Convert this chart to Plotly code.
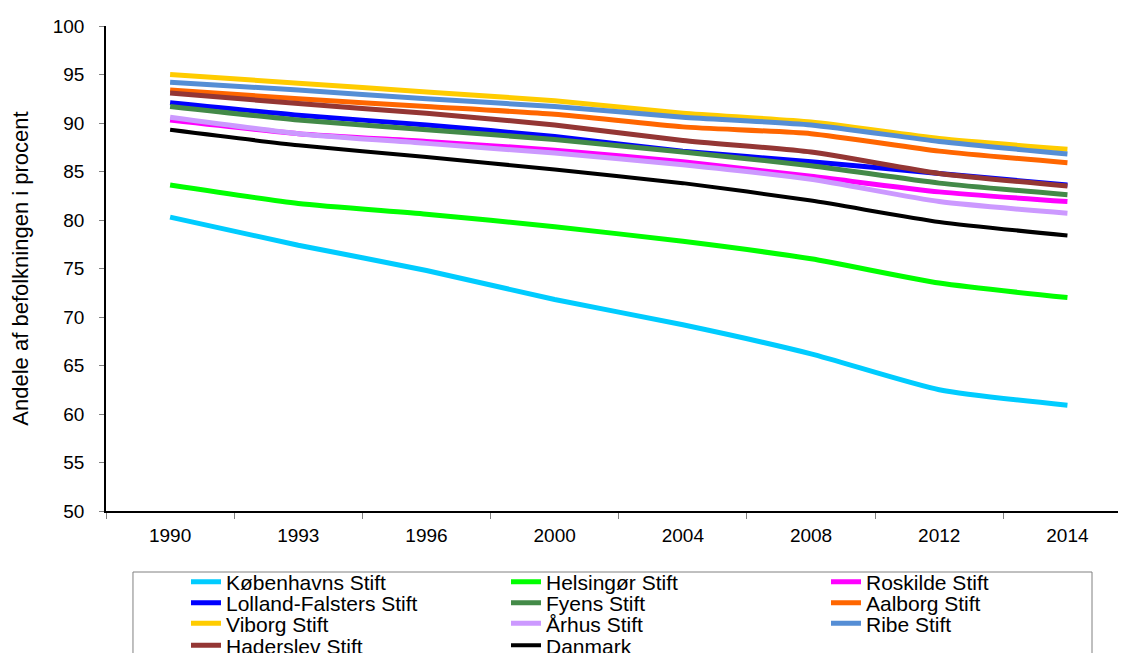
import plotly.graph_objects as go

years = ["1990", "1993", "1996", "2000", "2004", "2008", "2012", "2014"]

kobenhavn = [80.3, 77.4, 74.8, 71.8, 69.2, 66.2, 62.5, 60.9]
helsingor = [83.6, 81.7, 80.6, 79.3, 77.8, 76.0, 73.5, 72.0]
roskilde = [90.3, 88.9, 88.1, 87.2, 86.0, 84.5, 82.9, 81.9]
lolland = [92.1, 90.8, 89.8, 88.6, 87.1, 86.0, 84.8, 83.6]
fyens = [91.7, 90.3, 89.3, 88.3, 87.0, 85.6, 83.8, 82.6]
aalborg = [93.4, 92.5, 91.7, 90.9, 89.6, 88.9, 87.1, 85.9]
viborg = [95.0, 94.1, 93.2, 92.3, 91.0, 90.1, 88.4, 87.3]
arhus = [90.6, 88.9, 87.9, 86.9, 85.7, 84.2, 81.9, 80.7]
ribe = [94.2, 93.4, 92.5, 91.7, 90.6, 89.8, 88.1, 86.8]
haderslev = [93.1, 92.0, 91.0, 89.8, 88.2, 87.0, 84.8, 83.5]
danmark = [89.3, 87.7, 86.5, 85.2, 83.8, 82.0, 79.8, 78.4]

series = [
    ("Københavns Stift", kobenhavn, "#00CCFF", 5),
    ("Helsingør Stift", helsingor, "#00FF00", 5),
    ("Roskilde Stift", roskilde, "#FF00FF", 5),
    ("Lolland-Falsters Stift", lolland, "#0000FF", 5),
    ("Fyens Stift", fyens, "#438A48", 5),
    ("Aalborg Stift", aalborg, "#FF6600", 5),
    ("Viborg Stift", viborg, "#FFCC00", 5),
    ("Århus Stift", arhus, "#CC99FF", 5),
    ("Ribe Stift", ribe, "#558ED5", 5),
    ("Haderslev Stift", haderslev, "#943634", 5),
    ("Danmark", danmark, "#000000", 4),
]

legend_ids = ["legend", "legend2", "legend3", "legend4"]

fig = go.Figure()
for i, (name, vals, color, w) in enumerate(series):
    fig.add_trace(go.Scatter(
        x=years, y=vals, name=name, mode="lines",
        line=dict(color=color, width=w, shape="spline", smoothing=0.6),
        legend=legend_ids[i // 3],
    ))

font_family = "Liberation Sans, Arial, sans-serif"

def row_legend(yv):
    return dict(
        orientation="h",
        x=0.0789, xanchor="left",
        y=yv, yanchor="middle",
        entrywidth=275, entrywidthmode="pixels",
        bgcolor="rgba(0,0,0,0)", borderwidth=0,
        font=dict(family=font_family, size=21, color="black"),
        itemclick=False, itemdoubleclick=False,
    )

fig.update_layout(
    width=1126, height=653,
    paper_bgcolor="white", plot_bgcolor="white",
    margin=dict(l=98, r=14, t=18, b=150, autoexpand=False),
    font=dict(family=font_family, size=19, color="black"),
    showlegend=True,
    legend=row_legend(-0.1464),
    legend2=row_legend(-0.1897),
    legend3=row_legend(-0.2324),
    legend4=row_legend(-0.2777),
    xaxis=dict(
        type="category",
        range=[-0.5, 7.41],
        tickson="boundaries",
        ticks="outside", ticklen=6, tickcolor="#808080",
        ticklabelstandoff=6,
        showline=True, linecolor="black", linewidth=1.5,
        showgrid=False, zeroline=False,
        tickfont=dict(size=19),
    ),
    yaxis=dict(
        range=[50, 100],
        dtick=5, tick0=50,
        ticks="outside", ticklen=5, tickcolor="#808080",
        ticklabelstandoff=11,
        showline=True, linecolor="black", linewidth=1.5,
        showgrid=False, zeroline=False,
        tickfont=dict(size=19),
        title=dict(text="Andele af befolkningen i procent", font=dict(size=22), standoff=19),
    ),
    shapes=[dict(
        type="rect", xref="paper", yref="paper",
        x0=0.0266, x1=0.9724, y0=-0.45, y1=-0.1258,
        line=dict(color="#808080", width=1), fillcolor="rgba(0,0,0,0)",
        layer="below",
    )],
)

fig.write_html("out.html")
